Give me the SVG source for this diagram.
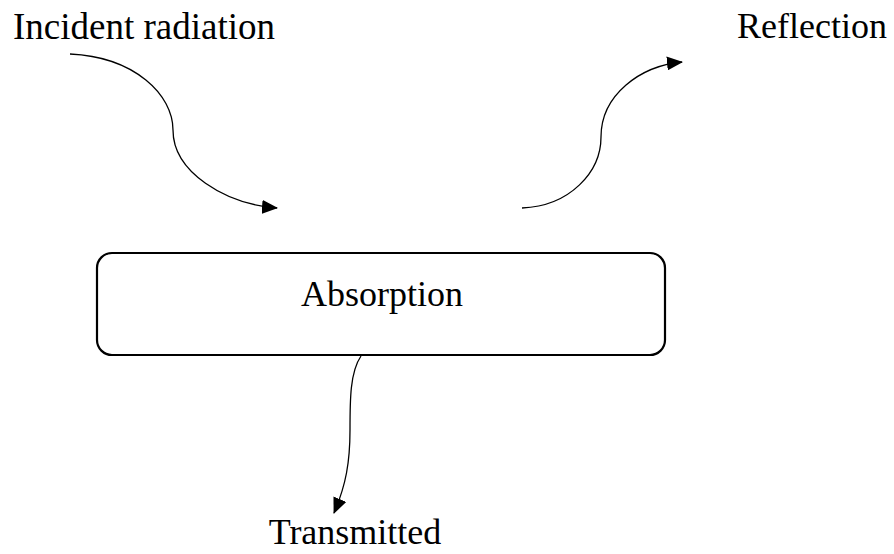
<svg xmlns="http://www.w3.org/2000/svg" width="894" height="554" viewBox="0 0 894 554">
<style>
text{font-family:"Liberation Serif","Times New Roman",serif;font-size:36px;fill:#000}
.c{fill:none;stroke:#000;stroke-width:1.3}
.box{fill:#fff;stroke:#000;stroke-width:2.2}
</style>
<defs>
<marker id="ah" viewBox="0 0 16 14" refX="15" refY="7" markerWidth="16" markerHeight="14" markerUnits="userSpaceOnUse" orient="auto">
<path d="M0,0 L16,7 L0,14 Z" fill="#000"/>
</marker>
</defs>
<rect width="894" height="554" fill="#fff"/>
<g id="connectors">
<path class="c" d="M70,54 C135,57 173,95 173,130 C173,172 225,204 277,208" marker-end="url(#ah)"/>
<path class="c" d="M522,208 C570,206 601,172 601,137 C601,95 640,66 682,62" marker-end="url(#ah)"/>
<path class="c" d="M361,356 C350,372 350,400 350,430 C350,462 346,485 334,513" marker-end="url(#ah)"/>
</g>
<g id="incident"><text x="13" y="39" style="font-size:37px">Incident radiation</text></g>
<g id="reflection"><text x="887" y="38" text-anchor="end">Reflection</text></g>
<g id="absorption">
<rect class="box" x="97" y="253" width="568" height="102" rx="15"/>
<text x="382" y="306" text-anchor="middle">Absorption</text>
</g>
<g id="transmitted"><text x="355" y="544" text-anchor="middle">Transmitted</text></g>
</svg>
